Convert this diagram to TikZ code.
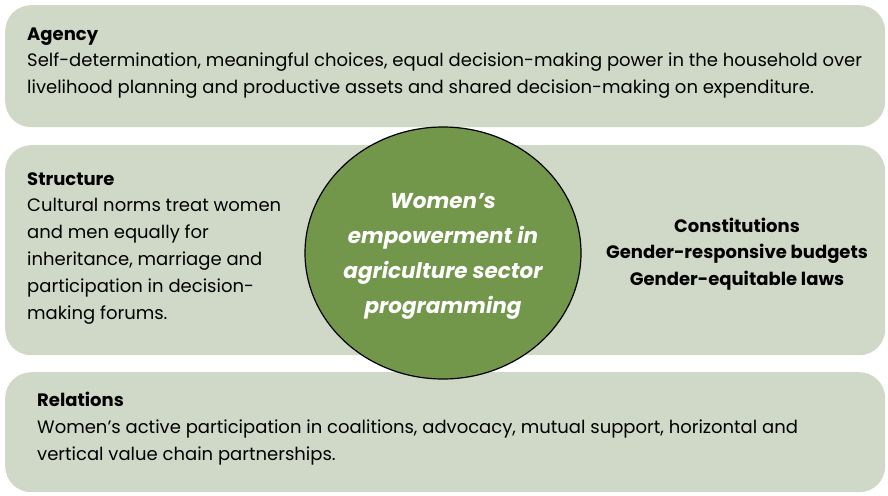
\documentclass[tikz,border=0pt]{standalone}
\usepackage{fontspec}
\setmainfont{Poppins}
\definecolor{boxfill}{HTML}{D0D8C7}
\definecolor{ellfill}{HTML}{72964A}
\usetikzlibrary{shapes.geometric}
\tikzset{
  panel/.style={fill=boxfill, draw=none, rounded corners=26pt},
  title/.style={anchor=base west, inner sep=0pt, font=\fontsize{18}{27}\selectfont\bfseries},
  body/.style={anchor=base west, inner sep=0pt, align=left, font=\fontsize{18}{27}\selectfont},
  rbody/.style={anchor=base, inner sep=0pt, align=center, font=\fontsize{18}{26.5}\selectfont\bfseries},
  centre/.style={ellipse, draw=black, line width=1.2pt, fill=ellfill, minimum width=276pt, minimum height=252pt, inner sep=0pt},
  ctext/.style={anchor=base, inner sep=0pt, align=center, text=white, font=\fontsize{21.5}{34.7}\selectfont\bfseries\itshape}
}
\begin{document}
\begin{tikzpicture}[x=1pt,y=-1pt]
\useasboundingbox (0,0) rectangle (888,495);
\fill[white] (0,0) rectangle (888,495);
\node[panel, minimum width=880pt, minimum height=122pt, anchor=north west] (agency) at (5,5) {};
\node[panel, minimum width=880pt, minimum height=210pt, anchor=north west] (structure) at (5,145) {};
\node[panel, minimum width=880pt, minimum height=120pt, anchor=north west] (relations) at (5,372) {};
\node[centre] (core) at (443,253) {};
\node[ctext] (coretext) at (443,313) {Women’s\\empowerment in\\agriculture sector\\programming};
\node[title] (agencyT) at (27,41) {Agency};
\node[body] (agencyB) at (27,93) {Self-determination, meaningful choices, equal decision-making power in the household over\\livelihood planning and productive assets and shared decision-making on expenditure.};
\node[title] (structureT) at (27,185) {Structure};
\node[body] (structureB) at (27,319) {Cultural norms treat women\\and men equally for\\inheritance, marriage and\\participation in decision-\\making forums.};
\node[rbody] (structureR) at (737,285) {Constitutions\\Gender-responsive budgets\\Gender-equitable laws};
\node[title] (relationsT) at (37,406) {Relations};
\node[body] (relationsB) at (37,460) {Women’s active participation in coalitions, advocacy, mutual support, horizontal and\\vertical value chain partnerships.};
\end{tikzpicture}
\end{document}
